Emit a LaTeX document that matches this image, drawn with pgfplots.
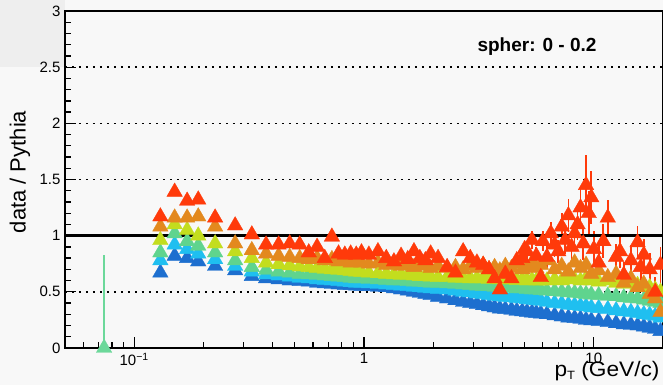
\documentclass[border=0pt]{standalone}
\usepackage{fontspec}
\setmainfont{Liberation Sans}
\usepackage{pgfplots}
\usepackage{pgfplotstable}
\pgfplotsset{compat=1.18}

\definecolor{bgc}{HTML}{F8F8F8}
\definecolor{bgdark}{HTML}{EEEEEE}
\definecolor{cRed}{HTML}{FF3A0A}
\definecolor{cOrange}{HTML}{E3891E}
\definecolor{cYellow}{HTML}{C3DD1E}
\definecolor{cGreen}{HTML}{5FD48E}
\definecolor{cCyan}{HTML}{1FBFF0}
\definecolor{cBlue}{HTML}{1D6FCF}
\definecolor{cSolo}{HTML}{6CD89A}

% ratio data / Pythia per multiplicity class
\pgfplotstableread{
x      b     c     g     yg    o     r     re
0.13   0.67  0.78  0.85  0.96  1.08  1.17  0.02
0.15   0.82  0.92  1.02  1.10  1.16  1.39  0.02
0.17   0.80  0.88  0.95  1.05  1.16  1.31  0.02
0.19   0.77  0.84  0.91  1.00  1.17  1.32  0.02
0.225  0.73  0.79  0.85  0.93  1.08  1.16  0.02
0.275  0.69  0.73  0.78  0.86  0.93  1.09  0.02
0.325  0.64  0.68  0.72  0.80  0.87  1.01  0.02
0.375  0.62  0.655 0.695 0.76  0.84  0.92  0.02
0.425  0.61  0.645 0.68  0.745 0.82  0.92  0.02
0.475  0.60  0.635 0.67  0.735 0.81  0.93  0.02
0.525  0.595 0.625 0.66  0.725 0.80  0.92  0.02
0.575  0.59  0.62  0.655 0.72  0.79  0.85  0.02
0.625  0.58  0.61  0.65  0.71  0.80  0.90  0.02
0.675  0.575 0.605 0.645 0.705 0.78  0.80  0.02
0.725  0.57  0.60  0.64  0.70  0.79  0.99  0.02
0.775  0.565 0.595 0.635 0.695 0.77  0.84  0.02
0.825  0.56  0.59  0.63  0.69  0.78  0.83  0.02
0.875  0.56  0.585 0.625 0.685 0.76  0.84  0.02
0.925  0.555 0.58  0.62  0.68  0.77  0.83  0.02
0.975  0.55  0.58  0.62  0.675 0.76  0.85  0.02
1.05   0.55  0.575 0.615 0.67  0.75  0.83  0.02
1.15   0.545 0.57  0.61  0.665 0.76  0.86  0.02
1.25   0.54  0.565 0.605 0.66  0.74  0.80  0.02
1.35   0.53  0.56  0.60  0.655 0.75  0.77  0.02
1.45   0.52  0.555 0.60  0.65  0.73  0.82  0.02
1.55   0.51  0.55  0.595 0.65  0.75  0.79  0.02
1.65   0.50  0.545 0.59  0.645 0.72  0.86  0.03
1.75   0.49  0.54  0.59  0.64  0.74  0.80  0.03
1.85   0.48  0.535 0.585 0.64  0.73  0.78  0.03
1.95   0.47  0.53  0.58  0.635 0.71  0.84  0.03
2.1    0.455 0.525 0.58  0.63  0.73  0.80  0.03
2.3    0.44  0.52  0.575 0.63  0.71  0.72  0.03
2.5    0.425 0.51  0.57  0.625 0.72  0.67  0.03
2.7    0.41  0.50  0.565 0.625 0.70  0.86  0.04
2.9    0.40  0.495 0.56  0.62  0.73  0.80  0.04
3.1    0.39  0.485 0.555 0.62  0.71  0.76  0.04
3.3    0.38  0.48  0.55  0.62  0.74  0.74  0.04
3.5    0.37  0.47  0.55  0.615 0.70  0.70  0.05
3.7    0.36  0.465 0.545 0.615 0.72  0.62  0.05
3.9    0.35  0.46  0.54  0.61  0.69  0.52  0.05
4.12   0.345 0.455 0.54  0.61  0.73  0.66  0.05
4.38   0.34  0.45  0.535 0.61  0.71  0.62  0.06
4.62   0.33  0.445 0.53  0.605 0.75  0.78  0.06
4.88   0.325 0.44  0.53  0.61  0.70  0.80  0.06
5.12   0.32  0.435 0.525 0.60  0.72  0.86  0.07
5.38   0.315 0.43  0.52  0.605 0.76  0.96  0.08
5.62   0.31  0.425 0.52  0.60  0.71  0.82  0.08
5.88   0.305 0.42  0.515 0.60  0.74  0.63  0.09
6.25   0.30  0.41  0.51  0.60  0.78  0.81  0.10
6.75   0.29  0.40  0.505 0.61  0.70  0.92  0.11
7.25   0.28  0.395 0.50  0.60  0.73  1.08  0.12
7.75   0.27  0.385 0.495 0.62  0.68  1.18  0.15
8.25   0.265 0.38  0.49  0.61  0.76  1.02  0.14
8.75   0.26  0.375 0.485 0.60  0.71  1.25  0.18
9.25   0.25  0.37  0.48  0.62  0.74  1.45  0.27
9.75   0.245 0.36  0.475 0.60  0.66  1.34  0.24
10.5   0.24  0.355 0.47  0.59  0.69  0.76  0.15
11.5   0.23  0.345 0.465 0.60  0.63  1.16  0.16
12.5   0.22  0.335 0.46  0.58  0.66  0.81  0.12
13.5   0.21  0.325 0.45  0.57  0.58  0.65  0.12
14.5   0.205 0.32  0.445 0.58  0.62  0.78  0.14
15.5   0.20  0.31  0.44  0.56  0.54  0.94  0.15
16.5   0.19  0.30  0.43  0.55  0.57  0.83  0.14
17.5   0.18  0.295 0.42  0.54  0.48  0.70  0.15
18.5   0.17  0.285 0.41  0.52  0.44  0.50  0.13
19.5   0.15  0.27  0.40  0.50  0.32  0.74  0.16
}\ratiotab

% further points of the highest class at large pT
\pgfplotstableread{
x     r     re
5.0   0.88  0.06
6.0   0.95  0.09
6.5   1.02  0.10
7.0   0.86  0.10
7.5   0.96  0.12
8.0   0.90  0.12
8.5   1.10  0.14
9.0   0.93  0.15
9.5   1.20  0.20
10.0  0.88  0.16
11.0  0.95  0.15
13.0  0.86  0.15
16.0  0.72  0.13
}\ratiohigh

\pgfplotsset{
  tri/.style={only marks, mark=triangle*, mark size=9bp,
    mark options={draw=#1, fill=#1, line width=0.3bp}},
}

\begin{document}
\begin{tikzpicture}
\fill[bgc] (-65bp,-37bp) rectangle (598bp,348bp);
\fill[bgdark] (-65bp,281bp) rectangle (0bp,348bp);
\path[use as bounding box] (-65bp,-37bp) rectangle (598bp,348bp);
\begin{axis}[
  at={(0,0)}, anchor=south west,
  scale only axis, width=598bp, height=337bp,
  xmode=log, xmin=0.05, xmax=20, ymin=0, ymax=3,
  xtick={0.1,1,10}, xticklabels={10\textsuperscript{−1},1,10},
  minor xtick={0.06,0.07,0.08,0.09,0.2,0.3,0.4,0.5,0.6,0.7,0.8,0.9,2,3,4,5,6,7,8,9,20},
  ytick={0,0.5,1,1.5,2,2.5,3}, yticklabels={0,0.5,1,1.5,2,2.5,3},
  minor y tick num=4,
  tick pos=left, tick align=inside,
  major tick length=11bp, minor tick length=6bp,
  every tick/.style={black, line width=1.3bp},
  axis line style={black, line width=1.8bp},
  ymajorgrids,
  major grid style={black, line width=1.6bp, dash pattern=on 1.8bp off 5.2bp},
  tick label style={font=\fontsize{15bp}{17bp}\selectfont},
  yticklabel style={xshift=-1bp},
  xticklabel style={yshift=-2bp},
  axis background/.style={fill=bgc},
]
% lowest class first, highest class drawn on top
\addplot[tri=cBlue] table[x=x, y=b] {\ratiotab};
\addplot[tri=cCyan] table[x=x, y=c] {\ratiotab};
\addplot[tri=cGreen] table[x=x, y=g] {\ratiotab};
\addplot[tri=cYellow] table[x=x, y=yg] {\ratiotab};
\addplot[tri=cOrange] table[x=x, y=o] {\ratiotab};
\addplot[tri=cRed, error bars/.cd, y dir=both, y explicit,
  error mark=none, error bar style={cRed, line width=1.7bp}]
  table[x=x, y=r, y error=re] {\ratiohigh};
\addplot[tri=cRed, error bars/.cd, y dir=both, y explicit,
  error mark=none, error bar style={cRed, line width=1.7bp}]
  table[x=x, y=r, y error=re] {\ratiotab};
% empty bin below the acceptance
\addplot[tri=cSolo, error bars/.cd, y dir=both, y explicit,
  error mark=none, error bar style={cSolo, line width=1.7bp}]
  coordinates {(0.074,0) +- (0,0.83)};
% unity reference
\addplot[black, line width=3.4bp, no marks] coordinates {(0.05,1) (20,1)};
\end{axis}
\node[rotate=90, font=\fontsize{22bp}{25bp}\selectfont] at (-45bp,176bp) {data / Pythia};
\node[anchor=base east, font=\fontsize{21bp}{24bp}\selectfont] at (598bp,-28bp) {\scalebox{1.08}[1]{p\raisebox{-0.35ex}{\fontsize{12bp}{14bp}\selectfont T} (GeV/c)}};
\node[font=\bfseries\fontsize{19bp}{22bp}\selectfont] at (472bp,301bp) {spher: 0 - 0.2};
\end{tikzpicture}
\end{document}
